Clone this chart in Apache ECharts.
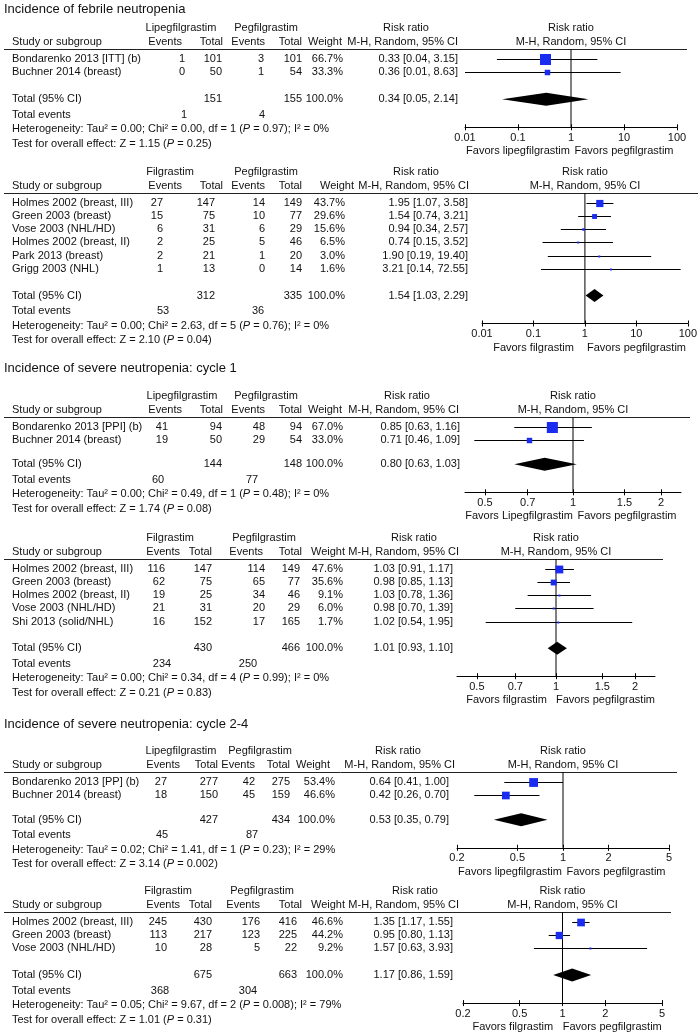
<!DOCTYPE html>
<html><head><meta charset="utf-8">
<script src="https://cdn.jsdelivr.net/npm/echarts@6/dist/echarts.min.js"></script>
<style>html,body{margin:0;padding:0;background:#fff}#c{width:700px;height:1032px}</style>
</head><body><div id="c"></div>
<script>
// ================= DATA =================
const sectionTitles = ['Incidence of febrile neutropenia', 'Incidence of severe neutropenia: cycle 1', 'Incidence of severe neutropenia: cycle 2-4'];

// Panel 1: febrile neutropenia, lipegfilgrastim vs pegfilgrastim
const p1Study = ['Bondarenko 2013 [ITT] (b)', 'Buchner 2014 (breast)'];
const p1ExpEvents = [1, 0];
const p1ExpTotal = [101, 50];
const p1CtlEvents = [3, 1];
const p1CtlTotal = [101, 54];
const p1Weight = [66.7, 33.3];
const p1RR = [0.33, 0.36];
const p1Lo = [0.04, 0.01];
const p1Hi = [3.15, 8.63];
const p1Summary = [151, 155, 100.0, 0.34, 0.05, 2.14];
const p1TotalEvents = [1, 4];
const p1Het = ['0.00', '0.00', 1, '0.97', '0%'];
const p1Test = ['1.15', '0.25'];
const p1Groups = ['Lipegfilgrastim', 'Pegfilgrastim'];
const p1Favors = ['Favors lipegfilgrastim', 'Favors pegfilgrastim'];
const p1Ticks = [0.01, 0.1, 1, 10, 100];
const p1TickLabels = ['0.01', '0.1', '1', '10', '100'];

// Panel 2: febrile neutropenia, filgrastim vs pegfilgrastim
const p2Study = ['Holmes 2002 (breast, III)', 'Green 2003 (breast)', 'Vose 2003 (NHL/HD)', 'Holmes 2002 (breast, II)', 'Park 2013 (breast)', 'Grigg 2003 (NHL)'];
const p2ExpEvents = [27, 15, 6, 2, 2, 1];
const p2ExpTotal = [147, 75, 31, 25, 21, 13];
const p2CtlEvents = [14, 10, 6, 5, 1, 0];
const p2CtlTotal = [149, 77, 29, 46, 20, 14];
const p2Weight = [43.7, 29.6, 15.6, 6.5, 3.0, 1.6];
const p2RR = [1.95, 1.54, 0.94, 0.74, 1.90, 3.21];
const p2Lo = [1.07, 0.74, 0.34, 0.15, 0.19, 0.14];
const p2Hi = [3.58, 3.21, 2.57, 3.52, 19.40, 72.55];
const p2Summary = [312, 335, 100.0, 1.54, 1.03, 2.29];
const p2TotalEvents = [53, 36];
const p2Het = ['0.00', '2.63', 5, '0.76', '0%'];
const p2Test = ['2.10', '0.04'];
const p2Groups = ['Filgrastim', 'Pegfilgrastim'];
const p2Favors = ['Favors filgrastim', 'Favors pegfilgrastim'];
const p2Ticks = [0.01, 0.1, 1, 10, 100];
const p2TickLabels = ['0.01', '0.1', '1', '10', '100'];

// Panel 3: severe neutropenia cycle 1, lipegfilgrastim vs pegfilgrastim
const p3Study = ['Bondarenko 2013 [PPI] (b)', 'Buchner 2014 (breast)'];
const p3ExpEvents = [41, 19];
const p3ExpTotal = [94, 50];
const p3CtlEvents = [48, 29];
const p3CtlTotal = [94, 54];
const p3Weight = [67.0, 33.0];
const p3RR = [0.85, 0.71];
const p3Lo = [0.63, 0.46];
const p3Hi = [1.16, 1.09];
const p3Summary = [144, 148, 100.0, 0.80, 0.63, 1.03];
const p3TotalEvents = [60, 77];
const p3Het = ['0.00', '0.49', 1, '0.48', '0%'];
const p3Test = ['1.74', '0.08'];
const p3Groups = ['Lipegfilgrastim', 'Pegfilgrastim'];
const p3Favors = ['Favors Lipegfilgrastim', 'Favors pegfilgrastim'];
const p3Ticks = [0.5, 0.7, 1, 1.5, 2];
const p3TickLabels = ['0.5', '0.7', '1', '1.5', '2'];

// Panel 4: severe neutropenia cycle 1, filgrastim vs pegfilgrastim
const p4Study = ['Holmes 2002 (breast, III)', 'Green 2003 (breast)', 'Holmes 2002 (breast, II)', 'Vose 2003 (NHL/HD)', 'Shi 2013 (solid/NHL)'];
const p4ExpEvents = [116, 62, 19, 21, 16];
const p4ExpTotal = [147, 75, 25, 31, 152];
const p4CtlEvents = [114, 65, 34, 20, 17];
const p4CtlTotal = [149, 77, 46, 29, 165];
const p4Weight = [47.6, 35.6, 9.1, 6.0, 1.7];
const p4RR = [1.03, 0.98, 1.03, 0.98, 1.02];
const p4Lo = [0.91, 0.85, 0.78, 0.70, 0.54];
const p4Hi = [1.17, 1.13, 1.36, 1.39, 1.95];
const p4Summary = [430, 466, 100.0, 1.01, 0.93, 1.10];
const p4TotalEvents = [234, 250];
const p4Het = ['0.00', '0.34', 4, '0.99', '0%'];
const p4Test = ['0.21', '0.83'];
const p4Groups = ['Filgrastim', 'Pegfilgrastim'];
const p4Favors = ['Favors filgrastim', 'Favors pegfilgrastim'];
const p4Ticks = [0.5, 0.7, 1, 1.5, 2];
const p4TickLabels = ['0.5', '0.7', '1', '1.5', '2'];

// Panel 5: severe neutropenia cycle 2-4, lipegfilgrastim vs pegfilgrastim
const p5Study = ['Bondarenko 2013 [PP] (b)', 'Buchner 2014 (breast)'];
const p5ExpEvents = [27, 18];
const p5ExpTotal = [277, 150];
const p5CtlEvents = [42, 45];
const p5CtlTotal = [275, 159];
const p5Weight = [53.4, 46.6];
const p5RR = [0.64, 0.42];
const p5Lo = [0.41, 0.26];
const p5Hi = [1.00, 0.70];
const p5Summary = [427, 434, 100.0, 0.53, 0.35, 0.79];
const p5TotalEvents = [45, 87];
const p5Het = ['0.02', '1.41', 1, '0.23', '29%'];
const p5Test = ['3.14', '0.002'];
const p5Groups = ['Lipegfilgrastim', 'Pegfilgrastim'];
const p5Favors = ['Favors lipegfilgrastim', 'Favors pegfilgrastim'];
const p5Ticks = [0.2, 0.5, 1, 2, 5];
const p5TickLabels = ['0.2', '0.5', '1', '2', '5'];

// Panel 6: severe neutropenia cycle 2-4, filgrastim vs pegfilgrastim
const p6Study = ['Holmes 2002 (breast, III)', 'Green 2003 (breast)', 'Vose 2003 (NHL/HD)'];
const p6ExpEvents = [245, 113, 10];
const p6ExpTotal = [430, 217, 28];
const p6CtlEvents = [176, 123, 5];
const p6CtlTotal = [416, 225, 22];
const p6Weight = [46.6, 44.2, 9.2];
const p6RR = [1.35, 0.95, 1.57];
const p6Lo = [1.17, 0.80, 0.63];
const p6Hi = [1.55, 1.13, 3.93];
const p6Summary = [675, 663, 100.0, 1.17, 0.86, 1.59];
const p6TotalEvents = [368, 304];
const p6Het = ['0.05', '9.67', 2, '0.008', '79%'];
const p6Test = ['1.01', '0.31'];
const p6Groups = ['Filgrastim', 'Pegfilgrastim'];
const p6Favors = ['Favors filgrastim', 'Favors pegfilgrastim'];
const p6Ticks = [0.2, 0.5, 1, 2, 5];
const p6TickLabels = ['0.2', '0.5', '1', '2', '5'];

// ================= ASSEMBLY =================
const panels = [
  {study:p1Study, ev:p1ExpEvents, tot:p1ExpTotal, cev:p1CtlEvents, ctot:p1CtlTotal, w:p1Weight, rr:p1RR, lo:p1Lo, hi:p1Hi, sum:p1Summary, tev:p1TotalEvents, het:p1Het, test:p1Test, groups:p1Groups, favors:p1Favors, ticks:p1Ticks, tickLabels:p1TickLabels},
  {study:p2Study, ev:p2ExpEvents, tot:p2ExpTotal, cev:p2CtlEvents, ctot:p2CtlTotal, w:p2Weight, rr:p2RR, lo:p2Lo, hi:p2Hi, sum:p2Summary, tev:p2TotalEvents, het:p2Het, test:p2Test, groups:p2Groups, favors:p2Favors, ticks:p2Ticks, tickLabels:p2TickLabels},
  {study:p3Study, ev:p3ExpEvents, tot:p3ExpTotal, cev:p3CtlEvents, ctot:p3CtlTotal, w:p3Weight, rr:p3RR, lo:p3Lo, hi:p3Hi, sum:p3Summary, tev:p3TotalEvents, het:p3Het, test:p3Test, groups:p3Groups, favors:p3Favors, ticks:p3Ticks, tickLabels:p3TickLabels},
  {study:p4Study, ev:p4ExpEvents, tot:p4ExpTotal, cev:p4CtlEvents, ctot:p4CtlTotal, w:p4Weight, rr:p4RR, lo:p4Lo, hi:p4Hi, sum:p4Summary, tev:p4TotalEvents, het:p4Het, test:p4Test, groups:p4Groups, favors:p4Favors, ticks:p4Ticks, tickLabels:p4TickLabels},
  {study:p5Study, ev:p5ExpEvents, tot:p5ExpTotal, cev:p5CtlEvents, ctot:p5CtlTotal, w:p5Weight, rr:p5RR, lo:p5Lo, hi:p5Hi, sum:p5Summary, tev:p5TotalEvents, het:p5Het, test:p5Test, groups:p5Groups, favors:p5Favors, ticks:p5Ticks, tickLabels:p5TickLabels},
  {study:p6Study, ev:p6ExpEvents, tot:p6ExpTotal, cev:p6CtlEvents, ctot:p6CtlTotal, w:p6Weight, rr:p6RR, lo:p6Lo, hi:p6Hi, sum:p6Summary, tev:p6TotalEvents, het:p6Het, test:p6Test, groups:p6Groups, favors:p6Favors, ticks:p6Ticks, tickLabels:p6TickLabels}
];

// ================= LAYOUT (positions / styles) =================
const FONT = '"Liberation Sans", Arial, Helvetica, sans-serif';
const FS = 11, TITLE_FS = 13;
const ROW = 13.3, FIRST = 30.5, AX_GAP = 28;
const SQ = 0.165, DIAM_H = 6.5;
const BLUE = '#1a2cf0', INK = '#111';
const titleY = [9, 368, 724];
const layout = [
  {h1: 28,  gap: 27.5, axL: 465, axR: 677, ruleEnd: 687, range: [0.01, 100],
   c:{g1:181,g2:266,rrh:406,hEv1:182,hTot1:223,hEv2:265,hTot2:302,hW:342,hMH:458,ev1:185,tot1:222,ev2:264,tot2:302,w:343,rr:458,tev1:184,tev2:262}},
  {h1: 172, gap: 26.5, axL: 482, axR: 688, ruleEnd: 698, range: [0.01, 100],
   c:{g1:170,g2:266,rrh:416,hEv1:182,hTot1:223,hEv2:265,hTot2:302,hW:354,hMH:469,ev1:163,tot1:215,ev2:265,tot2:302,w:345,rr:468,tev1:163,tev2:258}},
  {h1: 396, gap: 24.5, axL: 465, axR: 681, ruleEnd: 690, range: [1/2.34, 2.34],
   c:{g1:182,g2:266,rrh:407,hEv1:182,hTot1:223,hEv2:265,hTot2:302,hW:342,hMH:459,ev1:168,tot1:222,ev2:265,tot2:302,w:343,rr:460,tev1:158,tev2:252}},
  {h1: 538, gap: 26.5, axL: 457, axR: 655, ruleEnd: 663, range: [1/2.38, 2.38],
   c:{g1:170,g2:264,rrh:414,hEv1:180,hTot1:212,hEv2:263,hTot2:302,hW:345,hMH:459,ev1:165,tot1:212,ev2:265,tot2:300,w:343,rr:453,tev1:162,tev2:248}},
  {h1: 751, gap: 25, axL: 457, axR: 669, ruleEnd: 677, range: [0.2, 5],
   c:{g1:181,g2:260,rrh:398,hEv1:180,hTot1:218,hEv2:255,hTot2:290,hW:330,hMH:455,ev1:167,tot1:218,ev2:255,tot2:290,w:335,rr:449,tev1:162,tev2:252}},
  {h1: 891, gap: 27, axL: 463, axR: 662, ruleEnd: 671, range: [0.2, 5],
   c:{g1:168,g2:262,rrh:415,hEv1:180,hTot1:212,hEv2:260,hTot2:302,hW:345,hMH:459,ev1:167,tot1:212,ev2:260,tot2:297,w:343,rr:453,tev1:160,tev2:248}}
];

const graphics = [];
const RICH = {i: {fontStyle: 'italic', fontSize: FS, fontFamily: FONT, fill: INK, color: INK}};
function txt(x, y, text, align, size) {
  graphics.push({type: 'text', x: x, y: y, silent: true, z: 10,
    style: {text: String(text), fontSize: size || FS, fontFamily: FONT, fill: INK,
      align: align || 'left', verticalAlign: 'middle', textAlign: align || 'left', textVerticalAlign: 'middle', rich: RICH}});
}
function hline(x1, x2, y) {
  const yy = Math.round(y) + 0.5;
  graphics.push({type: 'line', silent: true, shape: {x1: x1, y1: yy, x2: x2, y2: yy}, style: {stroke: '#222', lineWidth: 1}});
}
const f2 = v => v.toFixed(2);
const rrText = (r, l, h) => f2(r) + ' [' + f2(l) + ', ' + f2(h) + ']';

sectionTitles.forEach((t, i) => txt(4, titleY[i], t, 'left', TITLE_FS));

const grids = [], xAxes = [], yAxes = [], series = [];

panels.forEach((p, k) => {
  const L = layout[k], c = L.c;
  const h1 = L.h1, h2 = h1 + 14, rule = h1 + 21;
  const y0 = h1 + FIRST;
  const n = p.study.length;
  const lastY = y0 + ROW * (n - 1);
  const totalY = lastY + L.gap;
  const axisY = totalY + AX_GAP;
  const evY = totalY + 15.5, hetY = evY + 14.5, testY = hetY + 14.5;
  const mid = (L.axL + L.axR) / 2;

  txt(c.g1, h1, p.groups[0], 'center');
  txt(c.g2, h1, p.groups[1], 'center');
  txt(c.rrh, h1, 'Risk ratio', 'center');
  txt(12, h2, 'Study or subgroup', 'left');
  txt(c.hEv1, h2, 'Events', 'right');
  txt(c.hTot1, h2, 'Total', 'right');
  txt(c.hEv2, h2, 'Events', 'right');
  txt(c.hTot2, h2, 'Total', 'right');
  txt(c.hW, h2, 'Weight', 'right');
  txt(c.hMH, h2, 'M-H, Random, 95% CI', 'right');
  txt(mid, h1, 'Risk ratio', 'center');
  txt(mid, h2, 'M-H, Random, 95% CI', 'center');
  hline(4, L.ruleEnd, rule);

  p.study.forEach((s, i) => {
    const y = y0 + ROW * i;
    txt(12, y, s, 'left');
    txt(c.ev1, y, p.ev[i], 'right');
    txt(c.tot1, y, p.tot[i], 'right');
    txt(c.ev2, y, p.cev[i], 'right');
    txt(c.tot2, y, p.ctot[i], 'right');
    txt(c.w, y, p.w[i].toFixed(1) + '%', 'right');
    txt(c.rr, y, rrText(p.rr[i], p.lo[i], p.hi[i]), 'right');
  });
  txt(12, totalY, 'Total (95% CI)', 'left');
  txt(c.tot1, totalY, p.sum[0], 'right');
  txt(c.tot2, totalY, p.sum[1], 'right');
  txt(c.w, totalY, p.sum[2].toFixed(1) + '%', 'right');
  txt(c.rr, totalY, rrText(p.sum[3], p.sum[4], p.sum[5]), 'right');
  txt(12, evY, 'Total events', 'left');
  txt(c.tev1, evY, p.tev[0], 'center');
  txt(c.tev2, evY, p.tev[1], 'center');
  txt(12, hetY, 'Heterogeneity: Tau\u00b2 = ' + p.het[0] + '; Chi\u00b2 = ' + p.het[1] + ', df = ' + p.het[2] +
      ' ({i|P} = ' + p.het[3] + '); I\u00b2 = ' + p.het[4], 'left');
  txt(12, testY, 'Test for overall effect: Z = ' + p.test[0] + ' ({i|P} = ' + p.test[1] + ')', 'left');

  txt((L.axL + mid) / 2, axisY + 24, p.favors[0], 'center');
  txt((mid + L.axR) / 2, axisY + 24, p.favors[1], 'center');

  const yMin = (rule - y0) / ROW, yMax = (axisY - y0) / ROW, totIdx = (totalY - y0) / ROW;
  grids.push({left: L.axL, width: L.axR - L.axL, top: rule, height: axisY - rule, containLabel: false});
  const tickFmt = v => {
    for (let j = 0; j < p.ticks.length; j++) if (Math.abs(v - p.ticks[j]) / p.ticks[j] < 1e-4) return p.tickLabels[j];
    return '';
  };
  xAxes.push({type: 'log', gridIndex: k, position: 'bottom', min: L.range[0], max: L.range[1], logBase: 10,
    axisLine: {show: true, onZero: false, lineStyle: {color: '#000', width: 1}},
    axisTick: {show: true, customValues: p.ticks, length: 3, inside: false, lineStyle: {color: '#000', width: 1}},
    minorTick: {show: false}, splitLine: {show: false},
    axisLabel: {show: true, customValues: p.ticks, formatter: tickFmt, margin: 5, color: INK, fontSize: FS, fontFamily: FONT}});
  xAxes.push({type: 'log', gridIndex: k, position: 'bottom', offset: 0, min: L.range[0], max: L.range[1], logBase: 10,
    axisLine: {show: false, onZero: false},
    axisTick: {show: true, customValues: p.ticks, length: 3, inside: true, lineStyle: {color: '#000', width: 1}},
    minorTick: {show: false}, splitLine: {show: false}, axisLabel: {show: false}});
  yAxes.push({type: 'value', gridIndex: k, min: yMin, max: yMax, inverse: true, show: false, splitLine: {show: false}});

  series.push({type: 'line', xAxisIndex: 2 * k, yAxisIndex: k, data: [[1, yMin], [1, yMax]], symbol: 'none', silent: true,
    lineStyle: {color: '#000', width: 1}, z: 2, animation: false});
  series.push({type: 'custom', xAxisIndex: 2 * k, yAxisIndex: k, z: 3, silent: true, animation: false,
    data: p.rr.map((r, i) => [r, i, p.lo[i], p.hi[i], p.w[i]]),
    encode: {x: 0, y: 1},
    renderItem: (params, api) => {
      const i = api.value(1);
      const pl = api.coord([api.value(2), i]), ph = api.coord([api.value(3), i]), pc = api.coord([api.value(0), i]);
      const s = Math.max(2, api.value(4) * SQ);
      const yy = Math.round(pc[1]) + 0.5;
      return {type: 'group', children: [
        {type: 'line', shape: {x1: pl[0], y1: yy, x2: ph[0], y2: yy}, style: {stroke: '#000', lineWidth: 1}},
        {type: 'rect', shape: {x: pc[0] - s / 2, y: yy - s / 2, width: s, height: s}, style: {fill: BLUE}}
      ]};
    }});
  series.push({type: 'custom', xAxisIndex: 2 * k, yAxisIndex: k, z: 3, silent: true, animation: false,
    data: [[p.sum[3], totIdx, p.sum[4], p.sum[5]]],
    encode: {x: 0, y: 1},
    renderItem: (params, api) => {
      const t = api.value(1);
      const pl = api.coord([api.value(2), t]), ph = api.coord([api.value(3), t]), pc = api.coord([api.value(0), t]);
      return {type: 'polygon', shape: {points: [[pl[0], pc[1]], [pc[0], pc[1] - DIAM_H], [ph[0], pc[1]], [pc[0], pc[1] + DIAM_H]]},
        style: {fill: '#000'}};
    }});
});

const chart = echarts.init(document.getElementById('c'), null, {renderer: 'canvas'});
chart.setOption({
  animation: false,
  backgroundColor: '#fff',
  grid: grids, xAxis: xAxes, yAxis: yAxes, series: series,
  graphic: {elements: graphics}
});
</script>
</body></html>
